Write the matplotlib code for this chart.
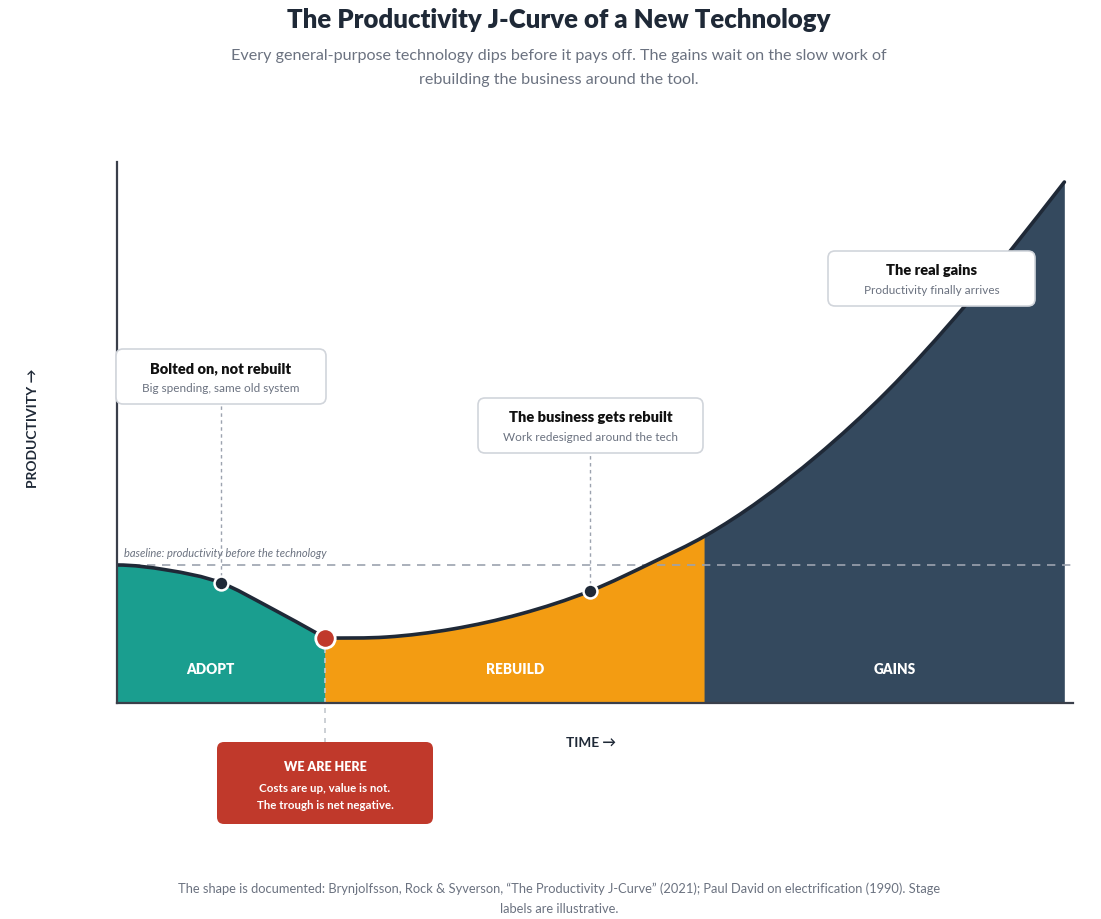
import matplotlib
matplotlib.use("Agg")
import matplotlib.pyplot as plt
from matplotlib.patches import FancyBboxPatch, PathPatch
from matplotlib.path import Path

plt.rcParams['font.family'] = ['Lato', 'DejaVu Sans']

# ---- data ----
adopt_t = [0, 5.2, 10.9, 15.7, 21.8]
adopt_p = [100, 96.4, 87.0, 70.3, 47.1]
rebuild_t = [21.8, 28.2, 35.1, 42.2, 49.5, 56.1, 61.5]
rebuild_p = [47.1, 47.8, 53.6, 64.5, 81.2, 102.2, 121.0]
gains_t = [61.5, 73.2, 80.5, 88.7, 93.6, 99.1]
gains_p = [121.0, 179.0, 225.4, 287.7, 329.0, 377.5]

stage_names = ["ADOPT", "REBUILD", "GAINS"]
stage_label_t = [9.8, 41.6, 81.4]
stage_colors = ["#1a9e8f", "#f39c12", "#34495e"]
baseline_value = 100

dot_points = [(10.9, 87.0), (49.5, 81.2)]
here_point = (21.8, 47.1)

W, H = 1101, 920
fig = plt.figure(figsize=(W / 100, H / 100), dpi=100)
ax = fig.add_axes([117 / W, 1 - 704 / H, (1073 - 117) / W, (704 - 163) / H])
ax.set_xlim(0, 100)
ax.set_ylim(0, 392)


def slopes(xs, ys, start_flat=False):
    n = len(xs)
    h = [xs[i + 1] - xs[i] for i in range(n - 1)]
    d = [(ys[i + 1] - ys[i]) / h[i] for i in range(n - 1)]
    m = [0.0] * n
    m[0] = 0.0 if start_flat else d[0]
    m[-1] = d[-1]
    for i in range(1, n - 1):
        m[i] = (h[i] * d[i - 1] + h[i - 1] * d[i]) / (h[i - 1] + h[i])
    return m


def bezier_segments(xs, ys, m):
    segs = []
    for i in range(len(xs) - 1):
        hh = xs[i + 1] - xs[i]
        c1 = (xs[i] + hh / 3, ys[i] + m[i] * hh / 3)
        c2 = (xs[i + 1] - hh / 3, ys[i + 1] - m[i + 1] * hh / 3)
        segs.append((c1, c2, (xs[i + 1], ys[i + 1])))
    return segs


# adopt is its own piece (corner at the trough); rebuild + gains are one smooth piece
a_m = slopes(adopt_t, adopt_p, start_flat=True)
rg_t = rebuild_t + gains_t[1:]
rg_p = rebuild_p + gains_p[1:]
rg_m = slopes(rg_t, rg_p, start_flat=True)
a_segs = bezier_segments(adopt_t, adopt_p, a_m)
rg_segs = bezier_segments(rg_t, rg_p, rg_m)
nr = len(rebuild_t) - 1
stage_pieces = [
    ((adopt_t[0], adopt_p[0]), a_segs),
    ((rebuild_t[0], rebuild_p[0]), rg_segs[:nr]),
    ((gains_t[0], gains_p[0]), rg_segs[nr:]),
]

for (start, segs), c in zip(stage_pieces, stage_colors):
    verts = [(start[0], 0), start]
    codes = [Path.MOVETO, Path.LINETO]
    for c1, c2, p in segs:
        verts += [c1, c2, p]
        codes += [Path.CURVE4] * 3
    verts += [(segs[-1][2][0], 0), (start[0], 0)]
    codes += [Path.LINETO, Path.CLOSEPOLY]
    ax.add_patch(PathPatch(Path(verts, codes), fc=c, ec=c, lw=0.5, zorder=1))

for name, lt in zip(stage_names, stage_label_t):
    ax.text(lt, 25, name, color="white", fontsize=9.8, fontweight="heavy",
            ha="center", va="center", zorder=5)

# the curve line
for start, segs in [((adopt_t[0], adopt_p[0]), a_segs), ((rg_t[0], rg_p[0]), rg_segs)]:
    verts = [start]
    codes = [Path.MOVETO]
    for c1, c2, p in segs:
        verts += [c1, c2, p]
        codes += [Path.CURVE4] * 3
    ax.add_patch(PathPatch(Path(verts, codes), fill=False, ec="#1f2937", lw=2.6,
                           capstyle="round", joinstyle="round", zorder=4))

ax.axhline(baseline_value, color="#9ca3af", lw=1.2, ls=(0, (5, 4)), zorder=3)
ax.text(0.7, baseline_value + 5, "baseline: productivity before the technology",
        fontsize=8, style="italic", color="#6b7280", ha="left", va="bottom", zorder=5)

for (t, p) in dot_points:
    ax.plot([t], [p], "o", ms=10, color="#1f2937", mec="white", mew=1.8, zorder=6,
            clip_on=False)
ax.plot([here_point[0]], [here_point[1]], "o", ms=14, color="#c0392b", mec="white",
        mew=2, zorder=7, clip_on=False)

for s in ["top", "right"]:
    ax.spines[s].set_visible(False)
for s in ["left", "bottom"]:
    ax.spines[s].set_color("#3a3f4a")
    ax.spines[s].set_linewidth(1.6)
    ax.spines[s].set_zorder(8)
ax.set_xticks([])
ax.set_yticks([])
ax.patch.set_alpha(0)

# ---- overlay in pixel units ----
ov = fig.add_axes([0, 0, 1, 1], zorder=10)
ov.set_xlim(0, W)
ov.set_ylim(H, 0)
ov.axis("off")
ov.patch.set_alpha(0)

ov.text(559, 20, "The Productivity J-Curve of a New Technology", fontsize=18.5,
        fontweight="heavy", color="#1f2937", ha="center", va="center")
ov.text(559, 56, "Every general-purpose technology dips before it pays off. The gains wait on the slow work of",
        fontsize=11.6, color="#6b7280", ha="center", va="center")
ov.text(559, 80, "rebuilding the business around the tool.",
        fontsize=11.6, color="#6b7280", ha="center", va="center")

ov.text(33, 428, "PRODUCTIVITY →", rotation=90, fontsize=10, fontweight="bold",
        color="#1f2937", ha="center", va="center")
ov.text(591, 743, "TIME →", fontsize=9.8, fontweight="bold", color="#1f2937",
        ha="center", va="center")

ov.text(559, 889, "The shape is documented: Brynjolfsson, Rock & Syverson, \u201cThe Productivity J-Curve\u201d (2021); Paul David on electrification (1990). Stage",
        fontsize=9.3, color="#6b7280", ha="center", va="center")
ov.text(559, 909, "labels are illustrative.", fontsize=9.3, color="#6b7280",
        ha="center", va="center")


def card(cx, top, w, h, title, sub):
    box = FancyBboxPatch((cx - w / 2, top), w, h,
                         boxstyle="round,pad=0,rounding_size=7",
                         fc="white", ec="#d1d5db", lw=1.2, zorder=11)
    ov.add_patch(box)
    ov.text(cx, top + 19, title, fontsize=10.5, fontweight="heavy", color="#111111",
            ha="center", va="center", zorder=12)
    ov.text(cx, top + 39, sub, fontsize=8.5, color="#6b7280", ha="center",
            va="center", zorder=12)


card(221, 350, 210, 55, "Bolted on, not rebuilt", "Big spending, same old system")
card(590.5, 399, 225, 55, "The business gets rebuilt", "Work redesigned around the tech")
card(931.5, 252, 207, 55, "The real gains", "Productivity finally arrives")

red = FancyBboxPatch((217, 743), 216, 82, boxstyle="round,pad=0,rounding_size=7",
                     fc="#c0392b", ec="none", zorder=11)
ov.add_patch(red)
ov.text(325, 767, "WE ARE HERE", fontsize=9, fontweight="heavy", color="white",
        ha="center", va="center", zorder=12)
ov.text(325, 789, "Costs are up, value is not.", fontsize=8.3, fontweight="bold",
        color="white", ha="center", va="center", zorder=12)
ov.text(325, 806, "The trough is net negative.", fontsize=8.3, fontweight="bold",
        color="white", ha="center", va="center", zorder=12)

# leaders from the cards to the points
for (t, p), ytop in zip(dot_points, [405, 454]):
    disp = ov.transData.transform((0, ytop))
    y_data = ax.transData.inverted().transform(disp)[1]
    ax.plot([t, t], [p, y_data], color="#9ca3af", lw=1, ls=(0, (2.5, 2.5)),
            zorder=3, clip_on=False)

disp = ov.transData.transform((0, 743))
y_data = ax.transData.inverted().transform(disp)[1]
ax.plot([here_point[0]] * 2, [here_point[1], y_data], color="#c4c8ce", lw=1.2,
        ls=(0, (3, 3)), zorder=3.5, clip_on=False)

fig.savefig("out.png", dpi=100, facecolor="white")
